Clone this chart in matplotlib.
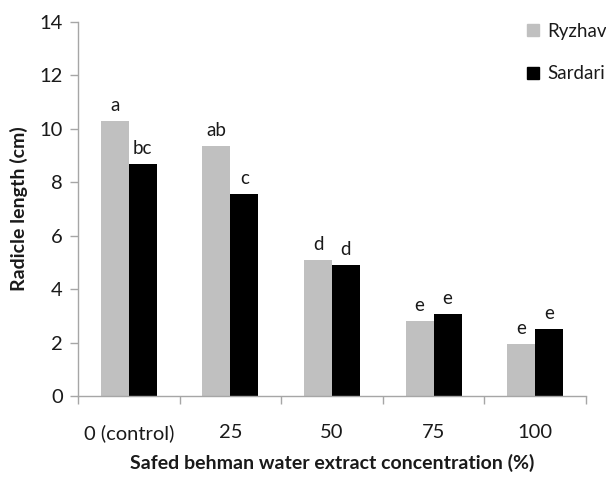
import matplotlib.pyplot as plt
import numpy as np
from matplotlib.lines import Line2D

plt.rcParams["font.family"] = ["Lato", "DejaVu Sans"]

categories = ["0 (control)", "25", "50", "75", "100"]
ryzhav = [10.29, 9.37, 5.09, 2.81, 1.95]
sardari = [8.67, 7.55, 4.90, 3.08, 2.50]
ryzhav_letters = ["a", "ab", "d", "e", "e"]
sardari_letters = ["bc", "c", "d", "e", "e"]

GREY = "#c0c0c0"
SPINE = "#a6a6a6"
INK = "#1a1a1a"

fig = plt.figure(figsize=(6.06, 4.82), dpi=100)
ax = fig.add_axes([0.1287, 0.1784, 0.8383, 0.776])

x = np.arange(len(categories))
w = 0.275
b1 = ax.bar(x - w / 2, ryzhav, w, color=GREY, label="Ryzhav")
b2 = ax.bar(x + w / 2, sardari, w, color="black", label="Sardari")

for bars, letters in [(b1, ryzhav_letters), (b2, sardari_letters)]:
    for rect, lab in zip(bars, letters):
        ax.annotate(lab, (rect.get_x() + rect.get_width() / 2, rect.get_height()),
                    xytext=(0, 5), textcoords="offset points",
                    ha="center", va="bottom", fontsize=13.5, color=INK)

ax.set_xlim(-0.5, len(categories) - 0.5)
ax.set_ylim(0, 14)
ax.set_yticks(range(0, 15, 2))
ax.set_xticks(x)
ax.set_xticklabels(categories)
ax.set_xticks(np.arange(-0.5, len(categories), 1), minor=True)
ax.tick_params(axis="x", which="major", length=0, pad=20, labelsize=14.5, labelcolor=INK)
ax.tick_params(axis="x", which="minor", length=6, color=SPINE, width=1)
ax.tick_params(axis="y", length=6, color=SPINE, width=1, labelsize=14.5, labelcolor=INK, pad=5)

for s in ["top", "right"]:
    ax.spines[s].set_visible(False)
for s in ["left", "bottom"]:
    ax.spines[s].set_color(SPINE)
    ax.spines[s].set_linewidth(1)

ax.set_ylabel("Radicle length (cm)", fontsize=14, fontweight="bold", labelpad=8, color=INK)
ax.set_xlabel("Safed behman water extract concentration (%)", fontsize=14,
              fontweight="bold", labelpad=9, color=INK)

handles = [Line2D([], [], marker="s", linestyle="none", markersize=8, color=GREY),
           Line2D([], [], marker="s", linestyle="none", markersize=8, color="black")]
fig.legend(handles, ["Ryzhav", "Sardari"], loc="upper left",
           bbox_to_anchor=(0.853, 0.972), frameon=False, fontsize=13.5,
           handlelength=0.7, handletextpad=0.4, labelspacing=1.35, borderpad=0,
           labelcolor=INK)

fig.savefig("out.png", dpi=100, facecolor="white")
